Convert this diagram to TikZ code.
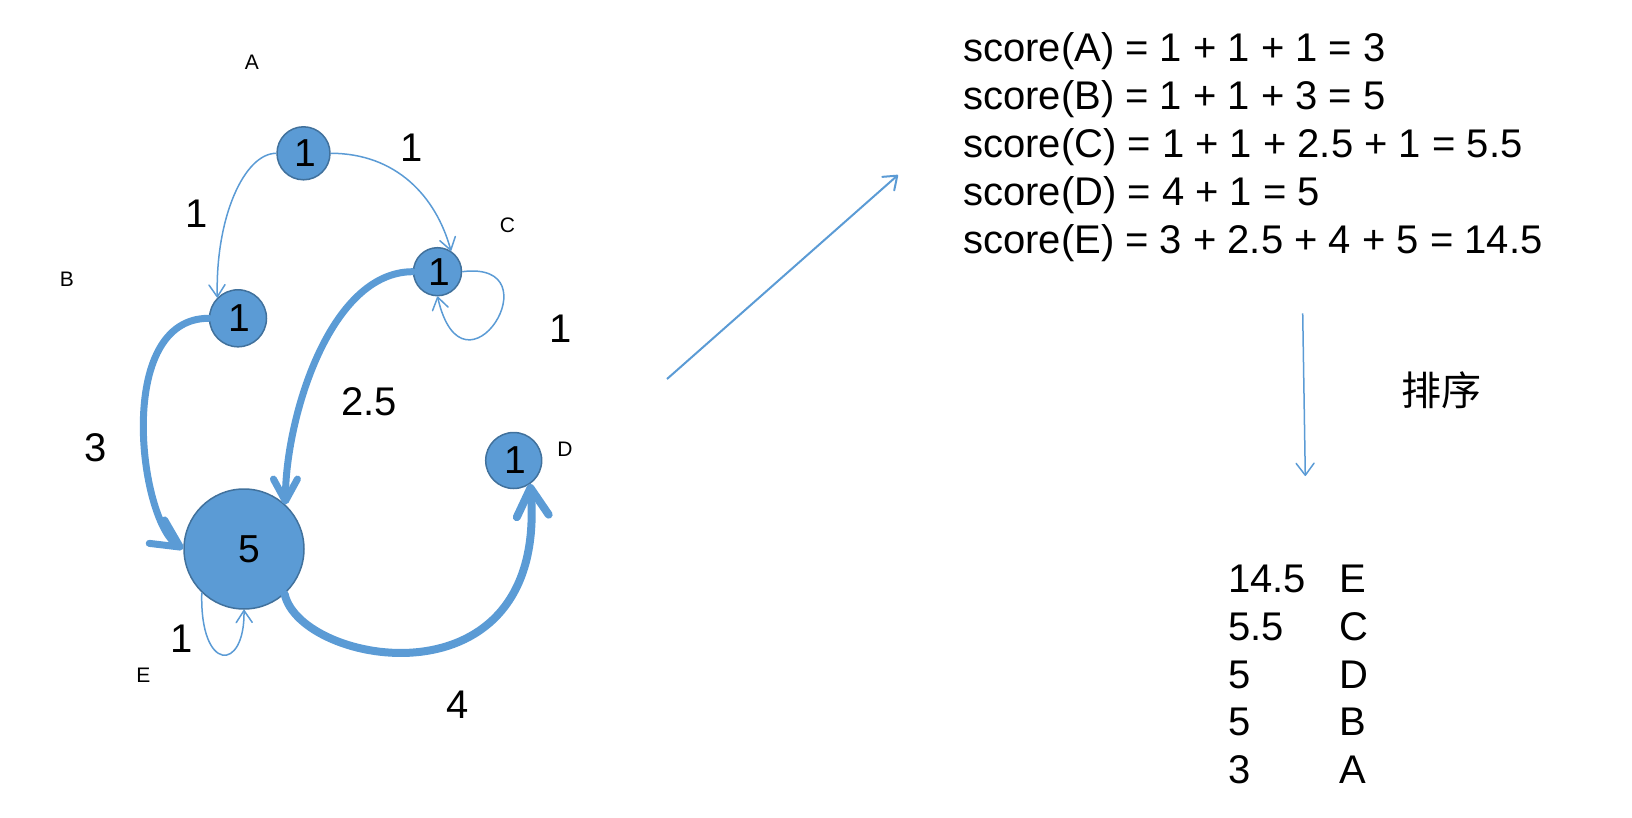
\documentclass[tikz,border=0pt]{standalone}
\usepackage{fontspec}
\setmainfont{Liberation Sans}
\newfontfamily\cjkfont{Noto Sans CJK SC}
\usetikzlibrary{arrows.meta}
\definecolor{eblue}{HTML}{5B9BD5}
\definecolor{nborder}{HTML}{41719C}
\begin{document}
\begin{tikzpicture}[x=1pt,y=-1pt,
 vert/.style={circle, fill=eblue, draw=nborder, line width=1.5pt, inner sep=0pt, font=\fontsize{39}{39}\selectfont},
 tag/.style={font=\fontsize{21}{21}\selectfont, inner sep=0pt},
 wlab/.style={font=\fontsize{40}{40}\selectfont, inner sep=0pt},
 txt/.style={font=\fontsize{40}{48}\selectfont, inner sep=0pt, anchor=base west},
 thinedge/.style={draw=eblue, line width=1.5pt, -{Straight Barb[length=12pt,width=16pt,round]}},
 thickedge/.style={draw=eblue, line width=7pt, line cap=round, -{Straight Barb[length=22pt,width=24pt,round]}},
 flowarrow/.style={draw=eblue, line width=2pt, -{Straight Barb[length=12pt,width=18pt,round]}},
]
\useasboundingbox (0,0) rectangle (1632,818);

% vertices
\node[vert, minimum size=53pt] (A) at (303.5,153.3) {\hspace{3pt}1};
\node[vert, minimum size=57pt] (B) at (238,318.3) {\hspace{3pt}1};
\node[vert, minimum size=48pt] (C) at (437.5,271.7) {\hspace{3pt}1};
\node[vert, minimum size=56pt] (D) at (513.7,460.5) {\hspace{3pt}1};
\node[vert, minimum size=120pt] (E) at (244,549) {\hspace{10pt}\raisebox{-4pt}{5}};

% vertex names
\node[tag] (tA) at (252,62.5) {A};
\node[tag] (tB) at (67,279) {B};
\node[tag] (tC) at (507.5,225.7) {C};
\node[tag] (tD) at (565,449) {D};
\node[tag] (tE) at (143.5,675) {E};

% edges
\draw[thinedge] (A.west) .. controls +(-32,0) and +(-2,-80) .. (B.135);
\draw[thinedge] (A.east) .. controls +(65,0) and +(-15,-55) .. (C.57);
\draw[thinedge] (C.east) .. controls +(95,-12) and +(26,114) .. (C.south);
\draw[thickedge, -{Straight Barb[length=28pt,width=28pt,round]}] (B.west) .. controls +(-94.5,0) and +(-44,-29) .. (E.west);
\draw[thickedge] (C.west) .. controls +(-83.5,0) and +(0,-85) .. (E.47);
\draw[thickedge, line width=8pt, -{Straight Barb[length=28pt,width=32pt,round]}] (E.312) .. controls +(16,72) and +(18,226) .. (D.305);
\draw[thinedge] (E.226) .. controls +(-2.3,80) and +(1,63) .. (E.south);

% edge weights
\node[wlab] (w1) at (197,214) {1};
\node[wlab] (w2) at (412,148) {1};
\node[wlab] (w3) at (561,329) {1};
\node[wlab] (w4) at (96,448) {3};
\node[wlab] (w5) at (369,401.5) {2.5};
\node[wlab] (w6) at (181.5,639) {1};
\node[wlab] (w7) at (458,705) {4};

% flow arrows
\coordinate (m1) at (667,379);
\coordinate (m2) at (898,175);
\draw[flowarrow] (m1) -- (m2);
\coordinate (s1a) at (1302.7,313.3);
\coordinate (s1b) at (1305.3,476);
\draw[flowarrow, line width=1.5pt] (s1a) -- (s1b);
\node[font=\cjkfont\fontsize{40}{40}\selectfont, inner sep=0pt] (sortlab) at (1441,390) {排序};

% scores
\node[txt] (sc1) at (963,62) {score(A) = 1 + 1 + 1 = 3};
\node[txt] (sc2) at (963,110) {score(B) = 1 + 1 + 3 = 5};
\node[txt] (sc3) at (963,158) {score(C) = 1 + 1 + 2.5 + 1 = 5.5};
\node[txt] (sc4) at (963,206) {score(D) = 4 + 1 = 5};
\node[txt] (sc5) at (963,254) {score(E) = 3 + 2.5 + 4 + 5 = 14.5};

% sorted list
\node[txt] (r1v) at (1228,592.7) {14.5};
\node[txt] (r1n) at (1339,592.7) {E};
\node[txt] (r2v) at (1228,640) {5.5};
\node[txt] (r2n) at (1339,640) {C};
\node[txt] (r3v) at (1228,688) {5};
\node[txt] (r3n) at (1339,688) {D};
\node[txt] (r4v) at (1228,735.5) {5};
\node[txt] (r4n) at (1339,735.5) {B};
\node[txt] (r5v) at (1228,783) {3};
\node[txt] (r5n) at (1339,783) {A};
\end{tikzpicture}
\end{document}
